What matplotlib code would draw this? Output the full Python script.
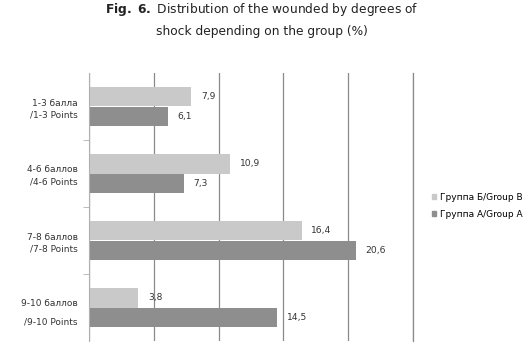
import numpy as np
import matplotlib.pyplot as plt
from matplotlib.patches import Patch

categories = ['1-3 балла\n/1-3 Points', '4-6 баллов\n/4-6 Points',
              '7-8 баллов\n/7-8 Points', '9-10 баллов\n/9-10 Points']
group_b = [7.9, 10.9, 16.4, 3.8]
group_a = [6.1, 7.3, 20.6, 14.5]
label_b = 'Группа Б/Group B'
label_a = 'Группа А/Group A'

col_b = '#c9c9c9'
col_a = '#8e8e8e'

plt.rcParams['font.family'] = ['DejaVu Sans']

fig = plt.figure(figsize=(5.32, 3.44), dpi=100)
ax = fig.add_axes([89 / 532, 3 / 344, 324 / 532, 268 / 344])

y = np.arange(len(categories))
h = 0.285
bars_b = ax.barh(y - h / 2, group_b, height=h, color=col_b)
bars_a = ax.barh(y + h / 2, group_a, height=h, color=col_a)

for bars, vals in ((bars_b, group_b), (bars_a, group_a)):
    for b, v in zip(bars, vals):
        ax.text(v + 0.75, b.get_y() + b.get_height() / 2, f'{v:.1f}'.replace('.', ','),
                va='center', ha='left', fontsize=6.6, color='#333333')

ax.set_xlim(0, 25)
ax.set_ylim(len(categories) - 0.5, -0.5)
ax.set_xticks(np.arange(0, 26, 5))
ax.xaxis.grid(True, color='#8a8a8a', linewidth=0.9)
ax.set_axisbelow(True)
ax.tick_params(axis='x', length=0, labelbottom=False)

ax.set_yticks(y)
labels = ax.set_yticklabels(categories, fontsize=6.5, color='#333333', ha='right')
for i, lab in enumerate(labels):
    lab.set_linespacing(2.3 if i == len(labels) - 1 else 1.45)
ax.tick_params(axis='y', which='major', length=0, pad=8)
ax.set_yticks(np.arange(0.5, len(categories) - 1, 1), minor=True)
ax.tick_params(axis='y', which='minor', length=4, color='#b0b0b0')

for s in ('top', 'bottom'):
    ax.spines[s].set_visible(False)
ax.spines['left'].set_color('#b0b0b0')
ax.spines['right'].set_color('#8a8a8a')
ax.spines['right'].set_linewidth(0.9)

handles = [Patch(color=col_b, label=label_b), Patch(color=col_a, label=label_a)]
fig.legend(handles=handles, loc='center left', bbox_to_anchor=(427 / 532, 1 - 206 / 344),
           frameon=False, fontsize=6.5, handlelength=0.5, handleheight=0.5,
           handletextpad=0.4, labelspacing=0.9, borderpad=0)

fig.text(0.4915, 1 - 9 / 344, r'$\bf{Fig.\ 6.}$ Distribution of the wounded by degrees of',
         ha='center', va='center', fontsize=8.8, color='#222222')
fig.text(0.4915, 1 - 31 / 344, 'shock depending on the group (%)',
         ha='center', va='center', fontsize=8.8, color='#222222')

fig.savefig('out.png', dpi=100)
